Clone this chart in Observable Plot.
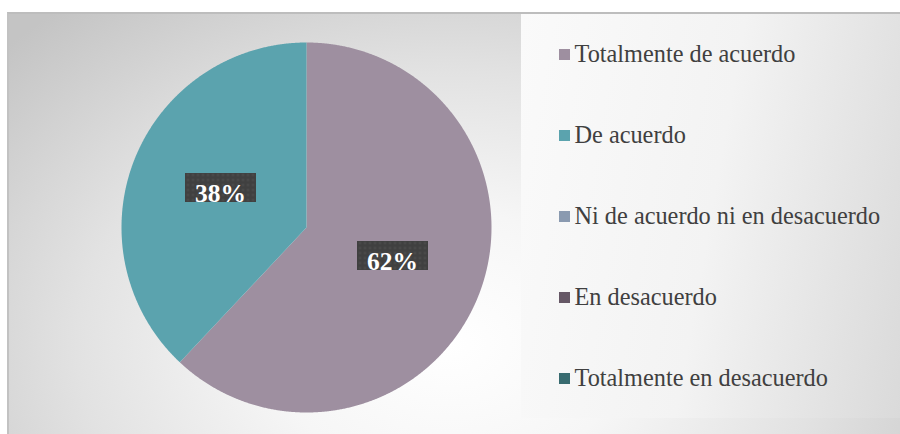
<!DOCTYPE html>
<html>
<head>
<meta charset="utf-8">
<script src="https://cdn.jsdelivr.net/npm/d3@7"></script>
<script src="https://cdn.jsdelivr.net/npm/@observablehq/plot@0.6"></script>
<style>
  html, body { margin: 0; padding: 0; background: #fff; }
  #wrap { position: relative; width: 900px; height: 434px; overflow: hidden; background: #fff; }
  #frame { position: absolute; left: 7px; top: 12px; width: 900px; height: 430px;
    border-top: 2px solid #bdbdbd; border-left: 2px solid #c2c2c2;
    background: radial-gradient(ellipse 600px 440px at 440px 330px, #ffffff 0%, #f6f6f6 30%, #e2e2e2 62%, #c4c4c4 100%); }
  #panel { position: absolute; left: 521px; top: 14px; width: 379px; height: 404px;
    background: linear-gradient(100deg, #fafafa 0%, #f3f3f3 50%, #dadada 100%); }
  #pie, #legend { position: absolute; }
  #pie { left: 0; top: 0; }
  #legend { left: 521px; top: 14px; }
  #wrap svg, #wrap svg text { font-family: "Liberation Serif", "Times New Roman", serif !important; }
</style>
</head>
<body>
<div id="wrap">
  <div id="frame"></div>
  <div id="panel"></div>
  <div id="pie"></div>
  <div id="legend"></div>
</div>
<script>
// ---- data ----
const categories = ["Totalmente de acuerdo", "De acuerdo", "Ni de acuerdo ni en desacuerdo", "En desacuerdo", "Totalmente en desacuerdo"];
const values = [62, 38, 0, 0, 0];
const labels = ["62%", "38%", "", "", ""];
const colors = ["#9e8fa0", "#5ba3ae", "#8a9ab0", "#665866", "#386b70"];

// ---- build slices ----
const pie = d3.pie().sort(null).value(d => d.value).startAngle(0).endAngle(2 * Math.PI);
const arcs = pie(categories.map((c, i) => ({category: c, value: values[i], label: labels[i]})));

const outline = [];
const labelPts = [];
for (const a of arcs) {
  if (a.value <= 0) continue;
  const c = a.data.category;
  outline.push({category: c, x: 0, y: 0});
  const n = Math.max(2, Math.ceil((a.endAngle - a.startAngle) / 0.005));
  for (let k = 0; k <= n; k++) {
    const t = a.startAngle + (a.endAngle - a.startAngle) * k / n;
    outline.push({category: c, x: Math.sin(t), y: Math.cos(t)});
  }
  outline.push({category: c, x: 0, y: 0});
  const m = (a.startAngle + a.endAngle) / 2;
  labelPts.push({category: c, label: a.data.label, x: 0.5 * Math.sin(m), y: 0.5 * Math.cos(m)});
}

const R = 185, CX = 306, CY = 227, W = 900, H = 434;
const boxSymbol = {draw(ctx) { ctx.rect(-35.5, -14.5, 71, 29); }};

const pieSvg = Plot.plot({
  width: W, height: H,
  margin: 0,
  style: {background: "none"},
  x: {domain: [-CX / R, (W - CX) / R], axis: null},
  y: {domain: [(CY - H) / R, CY / R], axis: null},
  color: {domain: categories, range: colors},
  marks: [
    Plot.line(outline, {x: "x", y: "y", z: "category", fill: "category", stroke: "none", curve: "linear",
      style: "filter: drop-shadow(0px 0px 7px rgba(0,0,0,0.28));"}),
    Plot.dot(labelPts, {x: "x", y: "y", dy: -6, symbol: boxSymbol, fill: "url(#lblpat)", stroke: "none",
      style: "filter: drop-shadow(2px 3px 2.5px rgba(0,0,0,0.45));"}),
    Plot.text(labelPts, {x: "x", y: "y", text: "label", fill: "white", fontSize: 25.5, fontWeight: "bold",
      textAnchor: "middle", lineAnchor: "middle"})
  ]
});
const defs = d3.select(pieSvg).insert("defs", ":first-child");
const pat = defs.append("pattern").attr("id", "lblpat").attr("patternUnits", "userSpaceOnUse")
  .attr("width", 5).attr("height", 5);
pat.append("rect").attr("width", 5).attr("height", 5).attr("fill", "#404040");
pat.append("rect").attr("x", 1.5).attr("y", 1.5).attr("width", 2).attr("height", 2).attr("fill", "#4f4f4f");
document.getElementById("pie").appendChild(pieSvg);

// ---- legend ----
const legendSym = {draw(ctx) { ctx.rect(-5.5, -5.5, 11, 11); }};
const legendSvg = Plot.plot({
  width: 379, height: 404,
  margin: 0,
  style: {background: "none"},
  x: {axis: null},
  y: {type: "point", domain: categories, range: [39, 365], padding: 0, axis: null},
  color: {domain: categories, range: colors},
  marks: [
    Plot.dot(categories, {y: d => d, frameAnchor: "left", dx: 43, symbol: legendSym, fill: d => d, stroke: "none"}),
    Plot.text(categories, {y: d => d, text: d => d, frameAnchor: "left", dx: 53, dy: 0, textAnchor: "start",
      fontSize: 24.3, fill: "#404040", lineAnchor: "middle"})
  ]
});
document.getElementById("legend").appendChild(legendSvg);
</script>
</body>
</html>
